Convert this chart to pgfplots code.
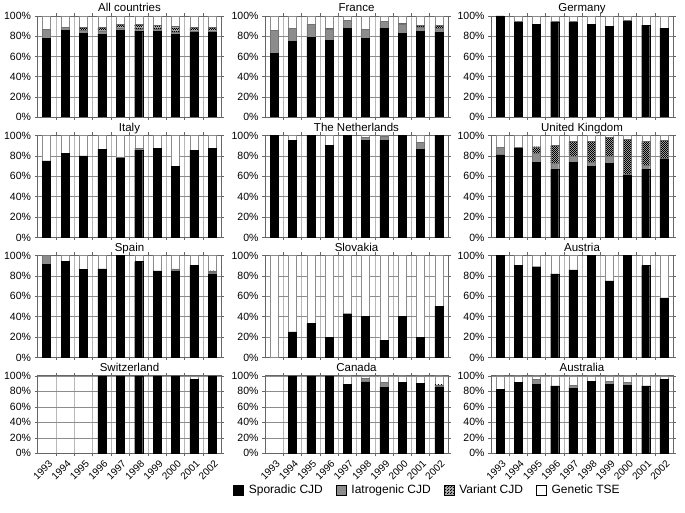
\documentclass[border=0pt]{standalone}
\usepackage{fontspec}
\setmainfont{Liberation Sans}
\usepackage{pgfplots}
\usepackage{pgfplotstable}
\pgfplotsset{compat=1.18}
\usetikzlibrary{patterns}

% fine checker for variant CJD
\pgfdeclarepatternformonly{finecheck}{\pgfpointorigin}{\pgfqpoint{2.4pt}{2.4pt}}{\pgfqpoint{2.4pt}{2.4pt}}{%
  \pgfpathrectangle{\pgfpointorigin}{\pgfqpoint{1.2pt}{1.2pt}}%
  \pgfpathrectangle{\pgfqpoint{1.2pt}{1.2pt}}{\pgfqpoint{1.2pt}{1.2pt}}%
  \pgfusepath{fill}}

% columns: year, sporadic, iatrogenic, variant, genetic (percent)
\pgfplotstableread{
year spor iat var gen
1993 78   9   0   13
1994 85.5 3.5 0   11
1995 83   3   2.5 11.5
1996 82   3   4   11
1997 85.5 2   4.5 8
1998 85   2   4.5 8.5
1999 85   2   4   9
2000 81.5 2.5 5.5 10.5
2001 83.5 1.5 4   11
2002 84   1   4   11
}\allc
\pgfplotstableread{
year spor iat var gen
1993 63   23  0   14
1994 75   13  0   12
1995 79   13  0   8
1996 76   11  1   12
1997 87.5 8   0   4.5
1998 78   9   0   13
1999 87.5 7   0   5.5
2000 83   8.5 1.5 7
2001 85   4   1.5 9.5
2002 84   4   2.5 9.5
}\france
\pgfplotstableread{
year spor iat var gen
1993 100  0   0   0
1994 93.5 1   0   5.5
1995 92   0   0   8
1996 94   1   0   5
1997 94   0.5 0   5.5
1998 92   0   0   8
1999 90   0   0   10
2000 95   0.5 0   4.5
2001 91   0   0   9
2002 88   0   0   12
}\germany
\pgfplotstableread{
year spor iat var gen
1993 75   0   0   25
1994 82.5 0   0   17.5
1995 80   0   0   20
1996 86.5 0   0   13.5
1997 77.5 1.5 0   21
1998 85.5 2   0   12.5
1999 87.5 0   0   12.5
2000 70   0   0   30
2001 85.5 0   0   14.5
2002 87.5 0   0   12.5
}\italy
\pgfplotstableread{
year spor iat var gen
1993 100  0   0   0
1994 95   0   0   5
1995 100  0   0   0
1996 90   0   0   10
1997 100  0   0   0
1998 95   3   0   2
1999 95   4   0   1
2000 100  0   0   0
2001 86.5 6.5 0   7
2002 100  0   0   0
}\nether
\pgfplotstableread{
year spor iat var gen
1993 81   7.5 0    11.5
1994 87.5 1   0    11.5
1995 74   8.5 6.5  11
1996 66.5 6.5 17.5 9.5
1997 74   5.5 14.5 6
1998 70   3.5 20.5 6
1999 73   6.5 18.5 2
2000 61   1   34.5 3.5
2001 66.5 4.5 23   6
2002 77   0.5 17.5 5
}\uk
\pgfplotstableread{
year spor iat var gen
1993 91.5 8.5 0   0
1994 94   0   0   6
1995 86.5 0   0   13.5
1996 87   0   0   13
1997 100  0   0   0
1998 94   0   0   6
1999 85   0   0   15
2000 85   2   0   13
2001 90   0   0   10
2002 82   2   1   15
}\spain
\pgfplotstableread{
year spor iat var gen
1993 0    0   0   100
1994 25   0   0   75
1995 33.3 0   0   66.7
1996 20   0   0   80
1997 42.9 0   0   57.1
1998 40   0   0   60
1999 16.7 0   0   83.3
2000 40   0   0   60
2001 20   0   0   80
2002 50   0   0   50
}\slovakia
\pgfplotstableread{
year spor iat var gen
1993 100  0   0   0
1994 90   0   0   10
1995 89   0   0   11
1996 82   0   0   18
1997 86   0   0   14
1998 100  0   0   0
1999 75   0   0   25
2000 100  0   0   0
2001 90   0   0   10
2002 58.5 0   0   41.5
}\austria
\pgfplotstableread{
year spor iat var gen
1993 0    0   0   0
1994 0    0   0   0
1995 0    0   0   0
1996 100  0   0   0
1997 100  0   0   0
1998 100  0   0   0
1999 100  0   0   0
2000 100  0   0   0
2001 95   0   0   5
2002 100  0   0   0
}\swiss
\pgfplotstableread{
year spor iat var gen
1993 0    0   0   0
1994 100  0   0   0
1995 100  0   0   0
1996 100  0   0   0
1997 89   0   0   11
1998 92   4.5 0   3.5
1999 85   6.5 0   8.5
2000 91.5 0   0   8.5
2001 90.5 0   0   9.5
2002 85.5 1.5 1.5 11.5
}\canada
\pgfplotstableread{
year spor iat var gen
1993 82.5 0   0   17.5
1994 91.5 0   0   8.5
1995 89   6   0   5
1996 87   0   0   13
1997 84   3.5 0   12.5
1998 93   0   0   7
1999 89   4   0   7
2000 88   3.5 0   8.5
2001 87   0   0   13
2002 95   0   0   5
}\australia

\pgfplotsset{
  panel/.style={
    scale only axis,
    ybar stacked, bar width=8pt,
    xmin=1992.5, xmax=2002.5, ymin=0, ymax=100,
    xtick={1993,...,2002}, xticklabels={},
    minor xtick={1993.5,1994.5,...,2001.5},
    xminorgrids, ymajorgrids,
    major grid style={black!45, line width=0.5pt},
    minor grid style={black!28, line width=0.5pt},
    ytick={0,20,40,60,80,100},
    yticklabels={0\%,20\%,40\%,60\%,80\%,100\%},
    tick align=outside,
    x tick style={draw=none},
    minor x tick style={draw=black!60, line width=0.5pt},
    minor tick length=3pt,
    y tick style={draw=black!60, line width=0.5pt},
    major tick length=3pt,
    axis line style={black!60, line width=0.6pt},
    tick label style={font=\fontsize{10.5}{12}\selectfont},
    /pgf/number format/assume math mode=true,
    title style={font=\fontsize{11.5}{13}\selectfont, anchor=base, yshift=-2pt},
    legend image code/.code={\draw[##1, draw=black, line width=0.5pt] (0pt,-5pt) rectangle (10pt,5pt);},
  },
  bottomrow/.style={
    xticklabels={1993,1994,1995,1996,1997,1998,1999,2000,2001,2002},
    xticklabel style={rotate=45, anchor=north east, inner sep=1pt, yshift=-2pt, font=\fontsize{10}{12}\selectfont},
  },
  spor/.style={fill=black, draw=black, line width=0.4pt},
  iat/.style={fill=black!45, draw=black!55, line width=0.4pt},
  var/.style={fill=black!30, postaction={pattern=finecheck, pattern color=black}, draw=black!60, line width=0.4pt},
  gen/.style={fill=white, draw=black!45, line width=0.4pt},
}

\newcommand{\stackbars}[1]{%
  \addplot[spor] table[x=year, y=spor] {#1};
  \addplot[iat]  table[x=year, y=iat]  {#1};
  \addplot[var]  table[x=year, y=var]  {#1};
  \addplot[gen]  table[x=year, y=gen]  {#1};
}

\begin{document}
\begin{tikzpicture}
\useasboundingbox (0,0) rectangle (685pt,513pt);

% row 1
\begin{axis}[panel, at={(37.5pt,396pt)}, anchor=south west, width=184pt, height=101pt, title={All countries}]
\stackbars{\allc}
\end{axis}
\begin{axis}[panel, at={(265pt,396pt)}, anchor=south west, width=183pt, height=101pt, title={France}]
\stackbars{\france}
\end{axis}
\begin{axis}[panel, at={(491pt,396pt)}, anchor=south west, width=182pt, height=101pt, title={Germany}]
\stackbars{\germany}
\end{axis}

% row 2
\begin{axis}[panel, at={(37.5pt,275.5pt)}, anchor=south west, width=184pt, height=102pt, title={Italy}]
\stackbars{\italy}
\end{axis}
\begin{axis}[panel, at={(265pt,275.5pt)}, anchor=south west, width=183pt, height=102pt, title={The Netherlands}]
\stackbars{\nether}
\end{axis}
\begin{axis}[panel, at={(491pt,275.5pt)}, anchor=south west, width=182pt, height=102pt, title={United Kingdom}]
\stackbars{\uk}
\end{axis}

% row 3
\begin{axis}[panel, at={(37.5pt,155.5pt)}, anchor=south west, width=184pt, height=102pt, title={Spain}]
\stackbars{\spain}
\end{axis}
\begin{axis}[panel, at={(265pt,155.5pt)}, anchor=south west, width=183pt, height=102pt, title={Slovakia}]
\stackbars{\slovakia}
\end{axis}
\begin{axis}[panel, at={(491pt,155.5pt)}, anchor=south west, width=182pt, height=102pt, title={Austria}]
\stackbars{\austria}
\end{axis}

% row 4
\begin{axis}[panel, bottomrow, at={(37.5pt,59.7pt)}, anchor=south west, width=184pt, height=77.5pt, title={Switzerland}]
\stackbars{\swiss}
\end{axis}
\begin{axis}[panel, bottomrow, at={(265pt,59.7pt)}, anchor=south west, width=183pt, height=77.5pt, title={Canada},
  legend columns=4,
  legend style={at={(0.888,-0.474)}, anchor=center, draw=none, fill=none,
    font=\fontsize{12}{14}\selectfont,
    /tikz/every odd column/.append style={column sep=3pt},
    /tikz/every even column/.append style={column sep=11pt}},
  ]
\stackbars{\canada}
\legend{Sporadic CJD, Iatrogenic CJD, Variant CJD, Genetic TSE}
\end{axis}
\begin{axis}[panel, bottomrow, at={(491pt,59.7pt)}, anchor=south west, width=182pt, height=77.5pt, title={Australia}]
\stackbars{\australia}
\end{axis}
\end{tikzpicture}
\end{document}
